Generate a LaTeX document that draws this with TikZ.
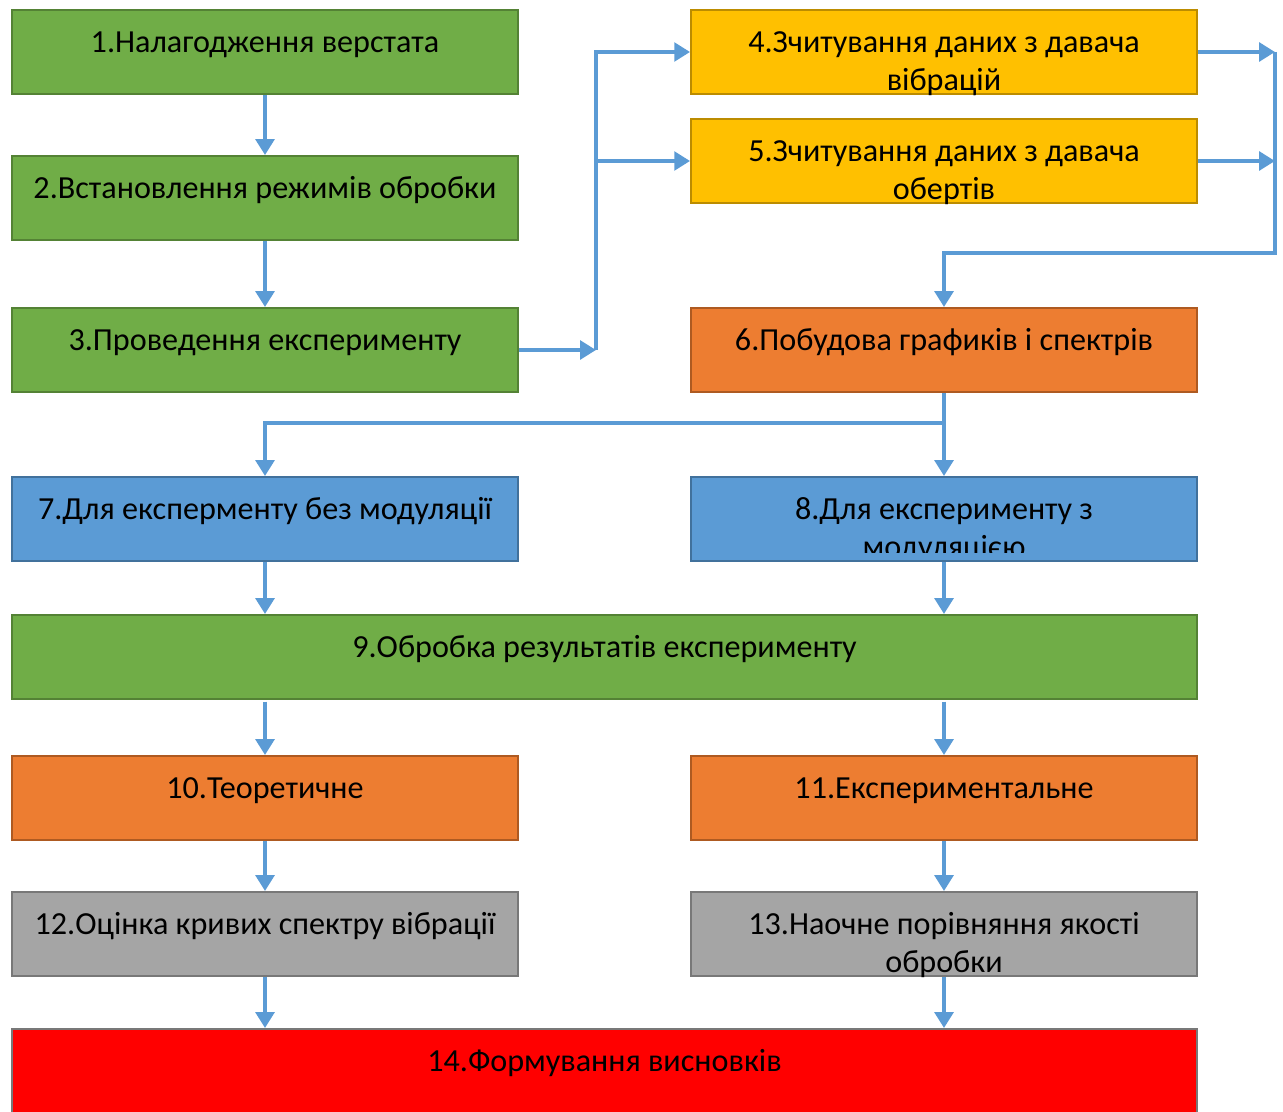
\documentclass[tikz,border=0pt]{standalone}
\usepackage{fontspec}
\setmainfont{Carlito}
\usetikzlibrary{arrows.meta, positioning, calc}

\definecolor{grn}{RGB}{112,173,71}
\definecolor{grnline}{RGB}{84,130,53}
\definecolor{ylw}{RGB}{255,192,0}
\definecolor{ylwline}{RGB}{188,140,0}
\definecolor{org}{RGB}{237,125,49}
\definecolor{orgline}{RGB}{174,90,33}
\definecolor{blu}{RGB}{91,155,213}
\definecolor{bluline}{RGB}{65,113,156}
\definecolor{gry}{RGB}{165,165,165}
\definecolor{gryline}{RGB}{120,120,120}
\definecolor{arrblue}{RGB}{91,155,213}

\begin{document}
\begin{tikzpicture}[x=0.02cm, y=-0.02cm,
  box/.style={draw, line width=1.1pt, minimum width=10.12cm, minimum height=1.68cm, inner sep=0pt},
  widebox/.style={box, minimum width=23.7cm},
  lbl/.style={anchor=base, align=center, font=\fontsize{18.3}{21.5}\selectfont, inner sep=0pt},
  arr/.style={line width=2.8pt, draw=arrblue, -{Triangle[length=9pt,width=10.5pt]}},
  ln/.style={line width=2.8pt, draw=arrblue}]
\clip (0,0) rectangle (1283,1111);
\useasboundingbox (0,0) rectangle (1283,1111);

% Left column
\node[box, fill=grn, draw=grnline] (b1) at (265,52) {};
\node[lbl] (t1) at ($(b1.north)+(0,43)$) {1.Налагодження верстата};
\node[box, fill=grn, draw=grnline] (b2) at (265,198) {};
\node[lbl] (t2) at ($(b2.north)+(0,43)$) {2.Встановлення режимів обробки};
\node[box, fill=grn, draw=grnline] (b3) at (265,350) {};
\node[lbl] (t3) at ($(b3.north)+(0,43)$) {3.Проведення експерименту};

% Sensors (two-line labels sit on their last line)
\node[box, fill=ylw, draw=ylwline] (b4) at (944,52) {};
\node[lbl] (t4) at ($(b4.north)+(0,81)$) {4.Зчитування даних з давача\\вібрацій};
\node[box, fill=ylw, draw=ylwline] (b5) at (944,161) {};
\node[lbl] (t5) at ($(b5.north)+(0,81)$) {5.Зчитування даних з давача\\обертів};
\node[box, fill=org, draw=orgline] (b6) at (944,350) {};
\node[lbl] (t6) at ($(b6.north)+(0,43)$) {6.Побудова графиків і спектрів};

% Experiment types
\node[box, fill=blu, draw=bluline] (b7) at (265,519) {};
\node[lbl] (t7) at ($(b7.north)+(0,43)$) {7.Для експерменту без модуляції};
\node[box, fill=blu, draw=bluline] (b8) at (944,519) {};
\begin{scope}
\clip ($(b8.south west)+(0,-9)$) rectangle (b8.north east);
\node[lbl] (t8) at ($(b8.north)+(0,81)$) {8.Для експерименту з\\модуляцією};
\end{scope}

% Processing
\node[widebox, fill=grn, draw=grnline] (b9) at (604.5,657) {};
\node[lbl] (t9) at ($(b9.north)+(0,43)$) {9.Обробка результатів експерименту};
\node[box, fill=org, draw=orgline] (b10) at (265,798) {};
\node[lbl] (t10) at ($(b10.north)+(0,43)$) {10.Теоретичне};
\node[box, fill=org, draw=orgline] (b11) at (944,798) {};
\node[lbl] (t11) at ($(b11.north)+(0,43)$) {11.Експериментальне};
\node[box, fill=gry, draw=gryline] (b12) at (265,934) {};
\node[lbl] (t12) at ($(b12.north)+(0,43)$) {12.Оцінка кривих спектру вібрації};
\node[box, fill=gry, draw=gryline] (b13) at (944,934) {};
\node[lbl] (t13) at ($(b13.north)+(0,81)$) {13.Наочне порівняння якості\\обробки};
\node[widebox, fill=red, draw=gryline] (b14) at (604.5,1071) {};
\node[lbl] (t14) at ($(b14.north)+(0,43)$) {14.Формування висновків};

% Connectors
\coordinate (s1) at (596,350);
\coordinate (r4) at (1275,52);
\coordinate (r5) at (1275,161);
\coordinate (s2) at (1275,253);
\coordinate (s3) at (944,423);
\draw[arr] (b1.south) -- (b2.north);
\draw[arr] (b2.south) -- (b3.north);
\draw[arr] (b3.east) -- (s1);
\draw[arr] (s1) |- (b4.west);
\draw[arr] (s1) |- (b5.west);
\draw[arr] (b4.east) -- (r4);
\draw[arr] (b5.east) -- (r5);
\draw[arr] (r4) -- (s2) -| (b6.north);
\draw[arr] (b6.south) -- (b8.north);
\draw[arr] (s3) -| (b7.north);
\draw[arr] (b7.south) -- (b7.south |- b9.north);
\draw[arr] (b8.south) -- (b8.south |- b9.north);
\draw[arr] ([yshift=-1pt]b10.north |- b9.south) -- (b10.north);
\draw[arr] ([yshift=-1pt]b11.north |- b9.south) -- (b11.north);
\draw[arr] (b10.south) -- (b12.north);
\draw[arr] (b11.south) -- (b13.north);
\draw[arr] (b12.south) -- (b12.south |- b14.north);
\draw[arr] (b13.south) -- (b13.south |- b14.north);
\end{tikzpicture}
\end{document}
